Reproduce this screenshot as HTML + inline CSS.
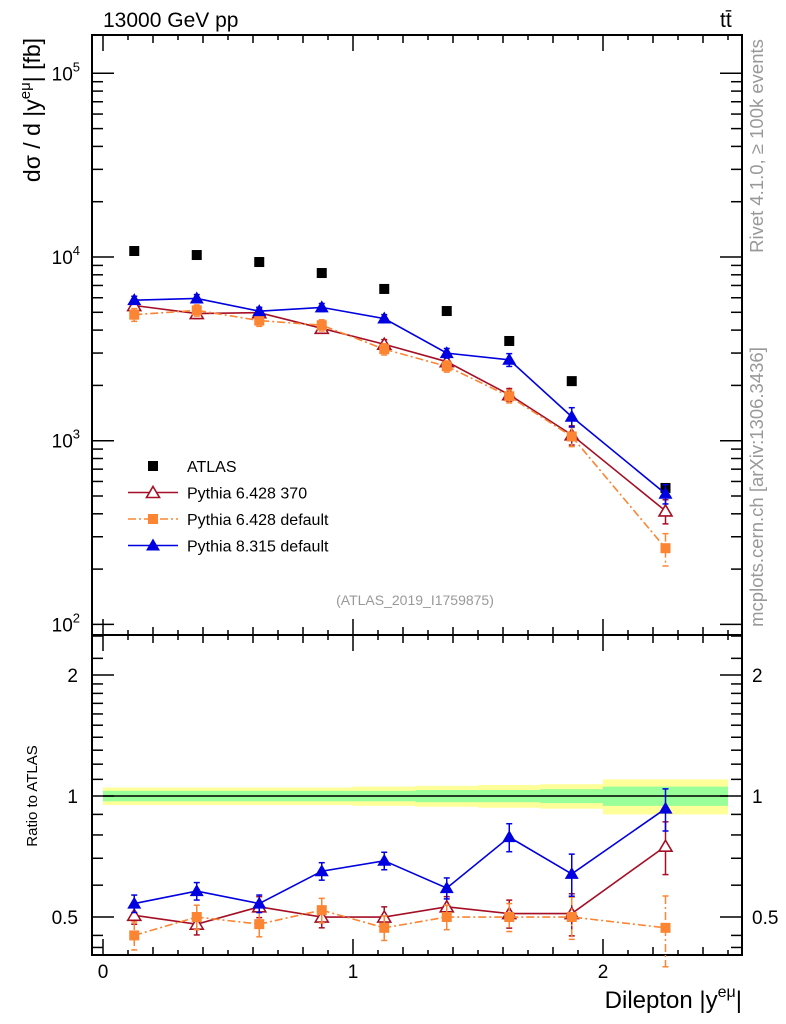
<!DOCTYPE html>
<html><head><meta charset="utf-8"><style>
body{margin:0;background:#fff}
svg{display:block;font-family:"Liberation Sans",sans-serif}
</style></head><body>
<svg id="c" width="786" height="1024" viewBox="0 0 786 1024">
<g id="bands"></g>
<g id="axes"></g>
<g id="series"></g>
<text x="103" y="27" font-size="21">13000 GeV pp</text>
<text x="720" y="27" font-size="21">tt̄</text>
<text transform="translate(40,110) rotate(-90)" font-size="23" text-anchor="middle">dσ / d |y<tspan font-size="15" dy="-10">eμ</tspan><tspan dy="10">| [fb]</tspan></text>
<text transform="translate(763,146) rotate(-90)" font-size="18.5" fill="#999" text-anchor="middle">Rivet 4.1.0, ≥ 100k events</text>
<text transform="translate(763,487) rotate(-90)" font-size="18.5" fill="#999" text-anchor="middle">mcplots.cern.ch [arXiv:1306.3436]</text>
<text x="415" y="605" font-size="14" fill="#999" text-anchor="middle">(ATLAS_2019_I1759875)</text>
<text transform="translate(37,796) rotate(-90)" font-size="15" text-anchor="middle">Ratio to ATLAS</text>
<text x="742" y="1008" font-size="24" text-anchor="end">Dilepton |y<tspan font-size="16" dy="-11">eμ</tspan><tspan dy="11">|</tspan></text>
<g id="legend"></g>
</svg>
<script>
const binLo=[0,0.25,0.5,0.75,1.0,1.25,1.5,1.75,2.0];
const binHi=[0.25,0.5,0.75,1.0,1.25,1.5,1.75,2.0,2.5];
const atlas=[10780,10250,9390,8180,6700,5080,3490,2110,553];
const bandInner=[0.03,0.03,0.03,0.03,0.03,0.035,0.035,0.04,0.055];
const bandOuter=[0.05,0.05,0.05,0.05,0.055,0.06,0.065,0.07,0.1];
const r370=[0.505,0.48,0.53,0.50,0.50,0.53,0.51,0.51,0.75];
const rDef6=[0.45,0.50,0.48,0.52,0.47,0.50,0.50,0.50,0.47];
const rPy8=[0.54,0.58,0.54,0.65,0.69,0.59,0.79,0.64,0.93];
const e370=[0.05,0.06,0.06,0.06,0.06,0.06,0.08,0.12,0.15];
const eDef6=[0.08,0.07,0.07,0.07,0.07,0.07,0.08,0.12,0.2];
const ePy8=[0.05,0.05,0.05,0.05,0.05,0.06,0.08,0.12,0.12];
const xTicks=[0,1,2];
const mainTicks=[100,1000,10000,100000];
const ratioTicks=[0.5,1,2];

const NS="http://www.w3.org/2000/svg";
const L=92,R=742,T=35,M=635,B=955;
const X=v=>103+250*v;
const Y=v=>257-183.7*(Math.log10(v)-4);
const YR=v=>796-402*Math.log10(v);
function el(p,tag,a){const e=document.createElementNS(NS,tag);for(const k in a)e.setAttribute(k,a[k]);p.appendChild(e);return e;}
const axes=document.getElementById('axes'),ser=document.getElementById('series'),bands=document.getElementById('bands'),leg=document.getElementById('legend');

for(let i=0;i<binLo.length;i++){
  let r=el(bands,'rect',{x:X(binLo[i]),y:YR(1+bandOuter[i]),width:X(binHi[i])-X(binLo[i]),height:YR(1-bandOuter[i])-YR(1+bandOuter[i]),fill:'#ffff99'});
  
  
  let g=el(bands,'rect',{x:X(binLo[i]),y:YR(1+bandInner[i]),width:X(binHi[i])-X(binLo[i]),height:YR(1-bandInner[i])-YR(1+bandInner[i]),fill:'#99ff99'});
  
  
}
el(axes,'line',{x1:X(0),x2:X(2.5),y1:YR(1),y2:YR(1),stroke:'#000','stroke-width':1.5});

el(axes,'rect',{x:L,y:T,width:R-L,height:M-T,fill:'none',stroke:'#000','stroke-width':2});
el(axes,'rect',{x:L,y:M,width:R-L,height:B-M,fill:'none',stroke:'#000','stroke-width':2});
for(let k=0;k<=25;k++){
  const v=k/10,x=X(v);if(x<L||x>R)continue;
  const len=(k%10==0)?16:(k%2==0?8:5);
  [[T,1],[M,-1],[M,1],[B,-1]].forEach(([y0,d])=>el(axes,'line',{x1:x,x2:x,y1:y0,y2:y0+d*len,stroke:'#000','stroke-width':1.5}));
}
xTicks.forEach(v=>{const t=el(axes,'text',{x:X(v),y:978,'font-size':19,'text-anchor':'middle'});t.textContent=v;
  
  });
for(let d=2;d<=5;d++)for(let m=1;m<=9;m++){
  const v=m*Math.pow(10,d),y=Y(v);if(y<T||y>M)continue;
  const len=m==1?22:11;
  el(axes,'line',{x1:L,x2:L+len,y1:y,y2:y,stroke:'#000','stroke-width':1.5});
  el(axes,'line',{x1:R,x2:R-len,y1:y,y2:y,stroke:'#000','stroke-width':1.5});
}
mainTicks.forEach(v=>{const t=el(axes,'text',{x:80,y:Y(v)+7,'font-size':19,'text-anchor':'end'});
  const e=Math.round(Math.log10(v));
  t.innerHTML='10<tspan font-size="13" dy="-9">'+e+'</tspan>';
  
  });
const rminor=[0.5,0.6,0.7,0.8,0.9,1,1.1,1.2,1.3,1.4,1.5,1.6,1.7,1.8,1.9,2];
rminor.forEach(v=>{const y=YR(v);const len=(v==0.5||v==1||v==2)?22:11;
  el(axes,'line',{x1:L,x2:L+len,y1:y,y2:y,stroke:'#000','stroke-width':1.5});
  el(axes,'line',{x1:R,x2:R-len,y1:y,y2:y,stroke:'#000','stroke-width':1.5});});
[0.45,0.42,2.5,2.2].forEach(v=>{const y=YR(v);if(y>M&&y<B){el(axes,'line',{x1:L,x2:L+11,y1:y,y2:y,stroke:'#000','stroke-width':1.5});el(axes,'line',{x1:R,x2:R-11,y1:y,y2:y,stroke:'#000','stroke-width':1.5});}});
ratioTicks.forEach(v=>{
  const a=el(axes,'text',{x:78,y:YR(v)+7,'font-size':19,'text-anchor':'end'});a.textContent=v;
  
  
  const b=el(axes,'text',{x:752,y:YR(v)+7,'font-size':19}); b.textContent=v;
  
  
});

function marker(g,type,x,y,c){
  if(type=='sq')el(g,'rect',{x:x-5,y:y-5,width:10,height:10,fill:c});
  else if(type=='tri')el(g,'path',{d:`M${x},${y-7}L${x+7},${y+5}L${x-7},${y+5}Z`,fill:c});
  else if(type=='otri')el(g,'path',{d:`M${x},${y-6}L${x+6.5},${y+5}L${x-6.5},${y+5}Z`,fill:'#fff',stroke:c,'stroke-width':1.6});
}
function series(name,ratios,errs,col,type,dash){
  const g=el(ser,'g',{});
  
  
  const mainPts=[],ratPts=[];
  ratios.forEach((r,i)=>{const xc=X((binLo[i]+binHi[i])/2),v=r*atlas[i];mainPts.push([xc,Y(v),v,errs[i]]);ratPts.push([xc,YR(r),r,errs[i]]);});
  [[mainPts,Y],[ratPts,YR]].forEach(([pts,f])=>{
    const d=pts.map((p,i)=>(i?'L':'M')+p[0]+','+p[1]).join('');
    const a={d:d,fill:'none',stroke:col,'stroke-width':1.6};if(dash)a['stroke-dasharray']=dash;
    el(g,'path',a);
    pts.forEach(p=>{const base=p[2];const y1=f(base*(1+p[3])),y2=f(base*(1-p[3]));
      el(g,'line',{x1:p[0],x2:p[0],y1:y1,y2:y2,stroke:col,'stroke-width':1.5,'stroke-dasharray':dash||''});
      el(g,'line',{x1:p[0]-3,x2:p[0]+3,y1:y1,y2:y1,stroke:col,'stroke-width':1.5});
      el(g,'line',{x1:p[0]-3,x2:p[0]+3,y1:y2,y2:y2,stroke:col,'stroke-width':1.5});
      marker(g,type,p[0],p[1],col);});
  });
}
const ga=el(ser,'g',{});


atlas.forEach((v,i)=>marker(ga,'sq',X((binLo[i]+binHi[i])/2),Y(v),'#000'));
series('pythia6-370',r370,e370,'#a50f26','otri');
series('pythia6-default',rDef6,eDef6,'#fb8533','sq','8,3,2,3');
series('pythia8-default',rPy8,ePy8,'#0000e0','tri');

const items=[['ATLAS','#000','sq',null,false],['Pythia 6.428 370','#a50f26','otri',null,true],['Pythia 6.428 default','#fb8533','sq','8,3,2,3',true],['Pythia 8.315 default','#0000e0','tri',null,true]];
items.forEach((it,i)=>{const y=466+26.5*i;
  const g=el(leg,'g',{});
  
  
  if(it[4]){const a={x1:128,x2:178,y1:y,y2:y,stroke:it[1],'stroke-width':1.6};if(it[3])a['stroke-dasharray']=it[3];el(g,'line',a);}
  marker(g,it[2],153,y,it[1]);
  const t=el(g,'text',{x:187,y:y+6,'font-size':16});t.textContent=it[0];});
</script>
</body></html>
